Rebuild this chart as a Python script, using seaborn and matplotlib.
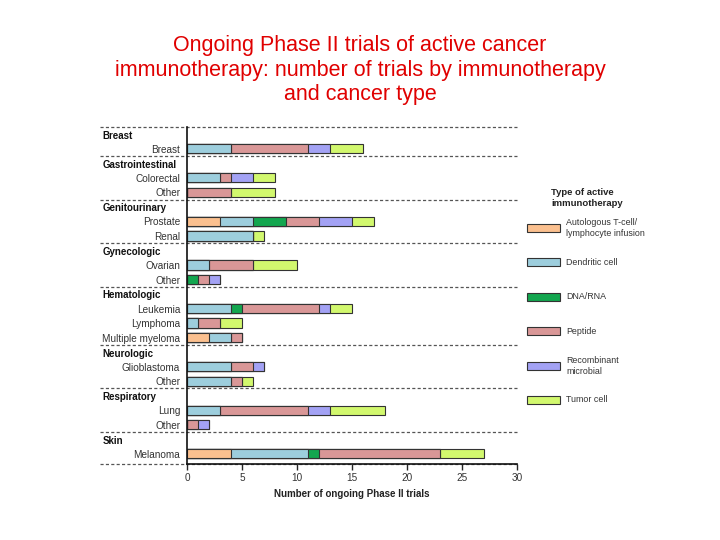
import numpy as np
import pandas as pd
import matplotlib
matplotlib.use("Agg")
import matplotlib.pyplot as plt
from matplotlib.patches import Rectangle
import seaborn as sns

# data: number of ongoing phase II trials per cancer type and therapy type
groups = ["Breast", "Gastrointestinal", "Genitourinary", "Gynecologic",
          "Hematologic", "Neurologic", "Respiratory", "Skin"]
group_members = [
    ["Breast"],
    ["Colorectal", "Other"],
    ["Prostate", "Renal"],
    ["Ovarian", "Other"],
    ["Leukemia", "Lymphoma", "Multiple myeloma"],
    ["Glioblastoma", "Other"],
    ["Lung", "Other"],
    ["Melanoma"],
]
therapies = ["Autologous T-cell/\nlymphocyte infusion", "Dendritic cell", "DNA/RNA",
             "Peptide", "Recombinant\nmicrobial", "Tumor cell"]
colors = ["#FBC08F", "#9DCEDD", "#13A64F", "#D99797", "#A3A2F4", "#D2F86E"]

autologous  = [0, 0, 0, 3, 0, 0, 0, 0, 0, 2, 0, 0, 0, 0, 4]
dendritic   = [4, 3, 0, 3, 6, 2, 0, 4, 1, 2, 4, 4, 3, 0, 7]
dna_rna     = [0, 0, 0, 3, 0, 0, 1, 1, 0, 0, 0, 0, 0, 0, 1]
peptide     = [7, 1, 4, 3, 0, 4, 1, 7, 2, 1, 2, 1, 8, 1, 11]
recombinant = [2, 2, 0, 3, 0, 0, 1, 1, 0, 0, 1, 0, 2, 1, 0]
tumor_cell  = [3, 2, 4, 2, 1, 4, 0, 2, 2, 0, 0, 1, 5, 0, 4]

# row positions: each group header takes one row
labels, positions, header_pos, sep_pos = [], [], [], []
row = 0
for g, members in zip(groups, group_members):
    header_pos.append(row)
    sep_pos.append(row - 0.5)
    row += 1
    for m in members:
        labels.append(m)
        positions.append(row)
        row += 1
bottom = row - 0.3

values = np.array([autologous, dendritic, dna_rna, peptide, recombinant, tumor_cell])
cum = values.cumsum(axis=0)

sns.set_style("white")
plt.rcParams["font.family"] = ["Liberation Sans", "DejaVu Sans"]

fig = plt.figure(figsize=(7.2, 5.4), dpi=100)
ax = fig.add_axes([187 / 720, 1 - 464 / 540, 330 / 720, 337 / 540])

# stacked bars: draw cumulative totals from the outermost segment inwards
for i in range(len(therapies) - 1, -1, -1):
    df = pd.DataFrame({"pos": positions, "cum": cum[i]})
    sns.barplot(data=df, x="cum", y="pos", orient="y", native_scale=True,
                color=colors[i], saturation=1, width=0.64, errorbar=None,
                edgecolor="#333333", linewidth=0.8, ax=ax)

ax.set_xlim(0, 30)
ax.set_ylim(bottom, -0.5)
ax.set_xticks(range(0, 31, 5))
ax.set_yticks(positions)
ax.set_yticklabels(labels)
ax.tick_params(axis="y", length=0, pad=5, labelsize=7.2, labelcolor="#333333")
ax.tick_params(axis="x", length=4, width=1, direction="out", labelsize=7.2,
               labelcolor="#333333", bottom=True, pad=2.5)
ax.set_xlabel("Number of ongoing Phase II trials", fontsize=7, fontweight="bold",
              color="#222222", labelpad=4)
ax.set_ylabel("")
for s in ["top", "right"]:
    ax.spines[s].set_visible(False)
for s in ["left", "bottom"]:
    ax.spines[s].set_color("#111111")
    ax.spines[s].set_linewidth(1.2)

# group headers and dashed separators
trans = ax.get_yaxis_transform()
for g, p in zip(groups, header_pos):
    ax.text(-0.255, p + 0.1, g, transform=trans, fontsize=7, fontweight="bold",
            ha="left", va="center", color="#111111")
for s in sep_pos + [bottom]:
    ax.plot([-0.265, 1.0], [s, s], transform=trans, clip_on=False,
            color="#555555", linewidth=0.9, linestyle=(0, (2.5, 1.8)), zorder=0)

# legend drawn in figure pixel coordinates
lax = fig.add_axes([0, 0, 1, 1], zorder=-1)
lax.set_xlim(0, 720)
lax.set_ylim(540, 0)
lax.axis("off")
lax.text(551, 198, "Type of active\nimmunotherapy", fontsize=6.8, fontweight="bold",
         ha="left", va="center", color="#222222", linespacing=1.25)
for i, (t, c) in enumerate(zip(therapies, colors)):
    y = 228 + 34.4 * i
    lax.add_patch(Rectangle((527, y - 4), 33, 8, facecolor=c, edgecolor="#333333",
                            linewidth=0.8))
    lax.text(566, y, t, fontsize=6.4, ha="left", va="center", color="#333333",
             linespacing=1.3)

fig.text(0.5, 0.87,
         "Ongoing Phase II trials of active cancer\nimmunotherapy: number of trials by immunotherapy\nand cancer type",
         ha="center", va="center", fontsize=15.5, color="#E00000", linespacing=1.22)

fig.savefig("out.png", dpi=100)
